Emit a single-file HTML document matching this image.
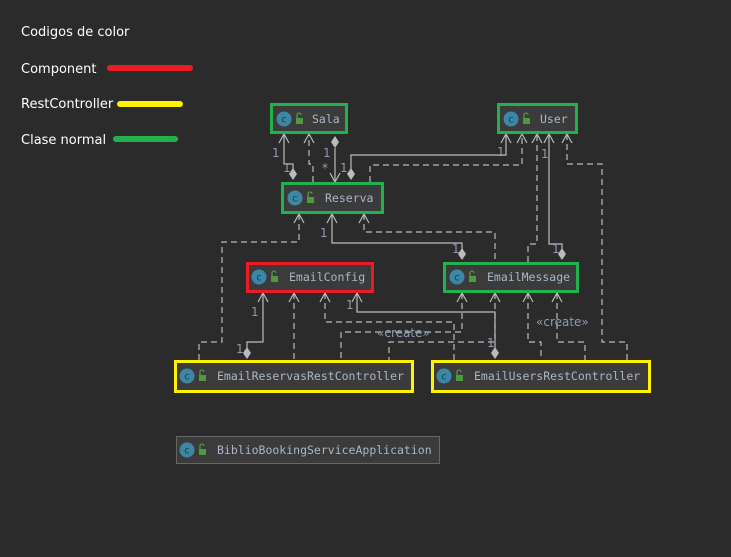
<!DOCTYPE html>
<html><head><meta charset="utf-8"><style>
html,body{margin:0;padding:0;background:#2b2b2b;}
svg{display:block}
.lg{font-family:"DejaVu Sans","Liberation Sans",sans-serif;font-size:13px;fill:#ffffff}
.nm{font-family:"DejaVu Sans Mono","Liberation Mono",monospace;font-size:11.5px;fill:#a9b7c6}
.lb{font-family:"DejaVu Sans","Liberation Sans",sans-serif;font-size:12px;fill:#8d9bb0}
.s{stroke:#bbbbbb;stroke-width:1.2;fill:none}
.d{stroke:#bbbbbb;stroke-width:1.2;fill:none;stroke-dasharray:6,4}
</style></head><body>
<svg width="731" height="557" viewBox="0 0 731 557" xmlns="http://www.w3.org/2000/svg">
<defs>
<g id="ic"><circle cx="0" cy="0" r="7.5" fill="#3d87a6"/><text x="0" y="3.5" text-anchor="middle" font-family="DejaVu Sans,sans-serif" font-size="10" fill="#1d3b4a">c</text>
<rect x="12" y="-1" width="7" height="6" fill="#4e9a3e"/><path d="M13 -1 v-3 a2 2 0 0 1 4 0" stroke="#4e9a3e" stroke-width="1.3" fill="none"/></g>
</defs>
<rect width="731" height="557" fill="#2b2b2b"/>
<text class="lg" x="21" y="36">Codigos de color</text>
<text class="lg" x="21" y="73">Component</text>
<line x1="110" y1="68" x2="190" y2="68" stroke="#ed1c24" stroke-width="6" stroke-linecap="round"/>
<text class="lg" x="21" y="108">RestController</text>
<line x1="120" y1="104" x2="180" y2="104" stroke="#fff200" stroke-width="6" stroke-linecap="round"/>
<text class="lg" x="21" y="144">Clase normal</text>
<line x1="116" y1="139" x2="175" y2="139" stroke="#22b14c" stroke-width="6" stroke-linecap="round"/>

<g>
<path class="s" d="M293 172 V164 H284 V134"/><path class="s" d="M279 143 L284 134 L289 143"/>
<path class="d" d="M313 182 V164 H309 V134"/><path class="s" d="M304 143 L309 134 L314 143"/>
<path class="s" d="M335 148 V182"/><path class="s" d="M330 173 L335 182 L340 173"/>
<path d="M335 136 l4 6 l-4 6 l-4 -6z" fill="#bbbbbb"/>
<path d="M293 168 l4 6 l-4 6 l-4 -6z" fill="#bbbbbb"/>
<path class="s" d="M351 172 V155 H506 V134"/><path class="s" d="M501 143 L506 134 L511 143"/>
<path d="M351 168 l4 6 l-4 6 l-4 -6z" fill="#bbbbbb"/>
<path class="d" d="M370 182 V165 H522 V134"/><path class="s" d="M517 143 L522 134 L527 143"/>
<path class="d" d="M528 262 V244 H537 V134"/><path class="s" d="M532 143 L537 134 L542 143"/>
<path class="s" d="M562 250 V244 H549 V134"/><path class="s" d="M544 143 L549 134 L554 143"/>
<path d="M562 248 l4 6 l-4 6 l-4 -6z" fill="#bbbbbb"/>
<path class="d" d="M567 134 V164 H602 V342 H627 V360"/><path class="s" d="M562 143 L567 134 L572 143"/>
<path class="d" d="M299 214 V242 H222 V342 H199 V360"/><path class="s" d="M294 223 L299 214 L304 223"/>
<path class="s" d="M332 214 V243 H462 V250"/><path class="s" d="M327 223 L332 214 L337 223"/>
<path d="M462 248 l4 6 l-4 6 l-4 -6z" fill="#bbbbbb"/>
<path class="d" d="M364 214 V232 H495 V262"/><path class="s" d="M359 223 L364 214 L369 223"/>
<path class="s" d="M263 293 V342 H247 V348"/><path class="s" d="M258 302 L263 293 L268 302"/>
<path d="M247 347 l4 6 l-4 6 l-4 -6z" fill="#bbbbbb"/>
<path class="d" d="M294 293 V360"/><path class="s" d="M289 302 L294 293 L299 302"/>
<path class="d" d="M325 293 V322 H454 V360"/><path class="s" d="M320 302 L325 293 L330 302"/>
<path class="s" d="M357 293 V312 H495 V348"/><path class="s" d="M352 302 L357 293 L362 302"/>
<path d="M495 347 l4 6 l-4 6 l-4 -6z" fill="#bbbbbb"/>
<path class="d" d="M462 293 V332 H341 V360"/><path class="s" d="M457 302 L462 293 L467 302"/>
<path class="d" d="M495 293 V342 H389 V360"/><path class="s" d="M490 302 L495 293 L500 302"/>
<path class="d" d="M528 293 V342 H541 V360"/><path class="s" d="M523 302 L528 293 L533 302"/>
<path class="d" d="M557 293 V342 H585 V360"/><path class="s" d="M552 302 L557 293 L562 302"/>
</g>
<g class="lb">
<text x="272" y="157">1</text><text x="283" y="172">1</text>
<text x="323" y="157">1</text><text x="322" y="172">*</text>
<text x="340" y="172">1</text><text x="497" y="156">1</text>
<text x="541" y="158">1</text><text x="552" y="253">1</text>
<text x="320" y="237">1</text><text x="452" y="253">1</text>
<text x="251" y="316">1</text><text x="236" y="353">1</text>
<text x="346" y="309">1</text><text x="487" y="347">1</text>
<text x="377" y="337">«create»</text>
<text x="536" y="326">«create»</text>
</g>
<g>
<rect x="271.5" y="104.5" width="75" height="28" fill="#3b3b3b" stroke="#22b14c" stroke-width="3"/>
<use href="#ic" x="284" y="119"/><text class="nm" x="312" y="123">Sala</text>
<rect x="498.5" y="104.5" width="78" height="28" fill="#3b3b3b" stroke="#22b14c" stroke-width="3"/>
<use href="#ic" x="511" y="119"/><text class="nm" x="540" y="123">User</text>
<rect x="282.5" y="183.5" width="100" height="29" fill="#3b3b3b" stroke="#22b14c" stroke-width="3"/>
<use href="#ic" x="295" y="198"/><text class="nm" x="325" y="202">Reserva</text>
<rect x="247.5" y="263.5" width="125" height="28" fill="#3b3b3b" stroke="#ed1c24" stroke-width="3"/>
<use href="#ic" x="259" y="277"/><text class="nm" x="289" y="281">EmailConfig</text>
<rect x="444.5" y="263.5" width="133" height="28" fill="#3b3b3b" stroke="#22b14c" stroke-width="3"/>
<use href="#ic" x="457" y="277"/><text class="nm" x="487" y="281">EmailMessage</text>
<rect x="175.5" y="361.5" width="237" height="30" fill="#3b3b3b" stroke="#fff200" stroke-width="3"/>
<use href="#ic" x="187" y="376"/><text class="nm" x="217" y="380">EmailReservasRestController</text>
<rect x="432.5" y="361.5" width="217" height="30" fill="#3b3b3b" stroke="#fff200" stroke-width="3"/>
<use href="#ic" x="444" y="376"/><text class="nm" x="474" y="380">EmailUsersRestController</text>
<rect x="176.5" y="436.5" width="263" height="27" fill="#3b3b3b" stroke="#666" stroke-width="1"/>
<use href="#ic" x="187" y="450"/><text class="nm" x="217" y="454">BiblioBookingServiceApplication</text>
</g>
</svg>
</body></html>
